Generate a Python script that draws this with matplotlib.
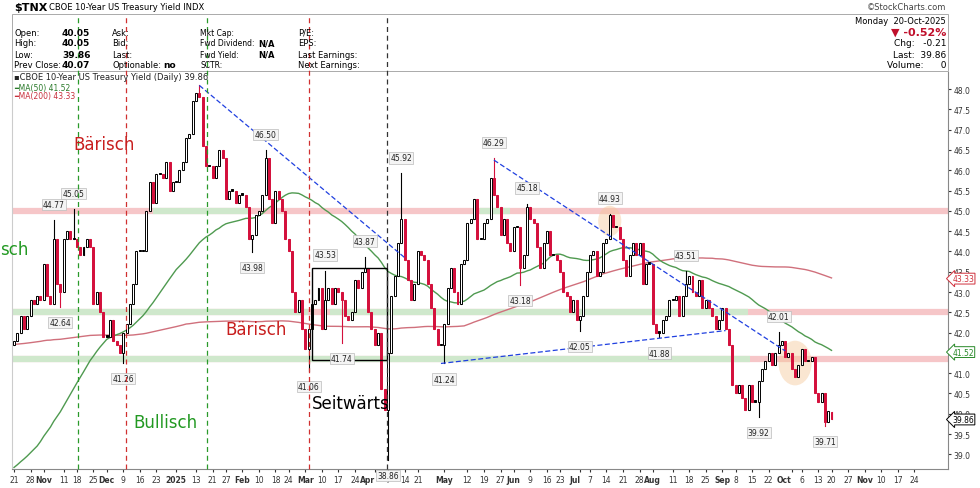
import numpy as np
import pandas as pd
import matplotlib
matplotlib.use("Agg")
import matplotlib.pyplot as plt
from matplotlib.patches import Rectangle, Ellipse

# ---------------- data ----------------
holidays = ["2024-11-11", "2024-11-28", "2024-12-25", "2025-01-01", "2025-01-09", "2025-01-20",
            "2025-02-17", "2025-04-18", "2025-05-26", "2025-06-19", "2025-07-04", "2025-09-01",
            "2025-10-13"]
closes = [
    41.8, 42.0, 42.4, 42.1, 42.4,
    42.8, 42.7, 42.9, 42.8, 43.7,
    42.9, 42.7, 44.3, 43.2, 43.0,
    44.3, 44.5, 44.3, 44.3,
    44.1, 43.9, 44.1, 44.3, 44.1,
    42.7, 43.0, 42.5, 41.9,
    41.9, 42.3, 41.8, 41.7, 41.5,
    42.0, 42.2, 42.7, 43.2, 44.0,
    44.0, 44.0, 45.0, 45.7, 45.2,
    45.9, 45.9, 45.8, 46.2,
    45.5, 45.7, 45.7, 46.0,
    46.2, 46.8, 46.9, 47.7,
    47.9, 47.8, 46.6, 46.1, 46.1,
    45.8, 46.1, 46.5, 46.3,
    45.3, 45.5, 45.5, 45.2, 45.4,
    45.4, 45.1, 44.3, 44.4, 44.9,
    45.0, 45.4, 46.3, 45.3, 44.7,
    45.5, 45.3, 45.0, 44.3,
    44.0, 43.0, 42.5, 42.8, 42.1,
    41.6, 42.1, 42.7, 42.8, 43.1,
    42.1, 42.8, 43.1, 42.7, 43.1,
    43.0, 42.8, 42.4, 42.3, 42.5,
    43.3, 43.1, 43.5, 43.6, 42.5,
    42.1, 41.7, 42.0, 40.6, 40.1,
    41.5, 42.9, 43.4, 44.2, 44.8,
    43.8, 43.3, 42.8, 43.2,
    44.0, 43.9, 43.8, 43.2, 42.6,
    42.1, 41.7, 41.7, 42.2, 43.1,
    43.6, 43.0, 42.7, 43.7, 43.8,
    44.7, 44.8, 45.3, 44.3, 44.3,
    44.7, 44.8, 45.8, 45.4, 45.1,
    44.4, 44.8, 44.2, 44.0,
    44.6, 44.6, 43.6, 43.9, 45.1,
    44.8, 44.7, 44.1, 43.6, 44.2,
    44.5, 43.9, 43.9, 43.8,
    43.5, 43.0, 42.9, 42.5, 42.8,
    42.3, 42.4, 42.9, 43.5,
    43.9, 44.0, 43.4, 43.5, 44.2,
    44.3, 44.9, 44.6, 44.6, 44.3,
    43.8, 43.4, 43.9, 44.2, 43.9,
    44.2, 43.2, 43.7, 43.7, 42.2,
    42.0, 42.0, 42.3, 42.4, 42.8,
    42.8, 42.9, 42.4, 42.9, 43.2,
    43.4, 43.0, 42.9, 43.3, 42.6,
    42.8, 42.6, 42.4, 42.1, 42.3,
    42.6, 42.1, 41.7, 40.7,
    40.5, 40.7, 40.4, 40.1, 40.7,
    40.3, 40.3, 40.8, 41.1, 41.3,
    41.5, 41.2, 41.5, 41.7, 41.8,
    41.4, 41.5, 41.1, 40.9, 41.2,
    41.6, 41.3, 41.3, 41.4, 40.5,
    40.3, 40.5, 39.8, 40.07,
    39.86,
]
prior_monthly = [40.6, 42.1, 42.1, 45.4, 44.8, 43.1, 42.5, 38.7, 37.2, 40.0]  # 2024 Jan-Oct avg
extremes_dates = ["2024-11-06", "2024-11-15", "2024-11-08", "2024-12-09", "2025-01-14", "2025-02-12",
                  "2025-02-06", "2025-03-04", "2025-03-11", "2025-03-27", "2025-03-18", "2025-04-07",
                  "2025-04-11", "2025-05-01", "2025-05-22", "2025-06-06", "2025-06-04", "2025-07-15",
                  "2025-07-01", "2025-08-15", "2025-08-05", "2025-09-17", "2025-09-25", "2025-10-16"]
extremes_vals = [44.77, 45.05, 42.64, 41.26, 48.09, 46.50, 43.98, 41.06, 43.53, 43.87, 41.74, 38.86,
                 45.92, 41.24, 46.29, 45.18, 43.18, 44.93, 42.05, 43.51, 41.88, 39.92, 42.01, 39.71]
extremes_kind = ["h", "h", "l", "l", "h", "h", "l", "l", "h", "h", "l", "l",
                 "h", "l", "h", "h", "l", "h", "l", "h", "l", "l", "h", "l"]
tick_dates = ["2024-10-21", "2024-10-28", "2024-11-01", "2024-11-12", "2024-11-18", "2024-11-25",
              "2024-12-02", "2024-12-09", "2024-12-16", "2024-12-23", "2025-01-02", "2025-01-13",
              "2025-01-21", "2025-01-27", "2025-02-03", "2025-02-10", "2025-02-18", "2025-02-24",
              "2025-03-03", "2025-03-10", "2025-03-17", "2025-03-24", "2025-04-01", "2025-04-07",
              "2025-04-14", "2025-04-21", "2025-05-01", "2025-05-12", "2025-05-19", "2025-05-27",
              "2025-06-02", "2025-06-09", "2025-06-16", "2025-06-23", "2025-07-01", "2025-07-07",
              "2025-07-14", "2025-07-21", "2025-07-28", "2025-08-01", "2025-08-11", "2025-08-18",
              "2025-08-25", "2025-09-02", "2025-09-08", "2025-09-15", "2025-09-22", "2025-10-01",
              "2025-10-06", "2025-10-14", "2025-10-20", "2025-10-27", "2025-11-03", "2025-11-10",
              "2025-11-17", "2025-11-24"]
tick_labels = ["21", "28", "Nov", "11", "18", "25", "Dec", "9", "16", "23", "2025", "13", "21", "27",
               "Feb", "10", "18", "24", "Mar", "10", "17", "24", "Apr", "7", "14", "21", "May", "12",
               "19", "27", "Jun", "9", "16", "23", "Jul", "7", "14", "21", "28", "Aug", "11", "18",
               "25", "Sep", "8", "15", "22", "Oct", "6", "13", "20", "27", "Nov", "10", "17", "24"]

# ---------------- calendar ----------------
cal = [d for d in pd.bdate_range("2024-10-21", "2025-11-28") if d.strftime("%Y-%m-%d") not in holidays]
cal = pd.DatetimeIndex(cal)
n = len(closes)
def pos(ds):
    return int(np.searchsorted(cal, pd.Timestamp(ds)))

closes = np.array(closes, dtype=float)
prev = np.concatenate([[41.7], closes[:-1]])
opens = prev.copy()
opens[-1] = 40.05
idx = np.arange(n)

hist = np.concatenate([np.repeat(prior_monthly, 21), closes])
s = pd.Series(hist)
ma50 = s.rolling(50).mean().values[-n:]
ma200 = s.rolling(200, min_periods=150).mean().values[-n:]

# ---------------- figure ----------------
W, H = 980, 489
fig = plt.figure(figsize=(9.8, 4.89), dpi=100)
plt.rcParams['font.family'] = ['DejaVu Sans']
ax_top, ax_bot, ax_l, ax_r = 73, 470, 12, 948
ax = fig.add_axes([ax_l / W, 1 - ax_bot / H, (ax_r - ax_l) / W, (ax_bot - ax_top) / H])

i_apr7 = pos("2025-04-07")
ppx = (388 - 14) / i_apr7
def px2i(p):
    return (p - 14) / ppx
ax.set_xlim(px2i(ax_l), px2i(ax_r))
ax.set_ylim(38.64, 48.42)

# bands
def band(y, x0, x1, col):
    ax.plot([px2i(x0), px2i(x1)], [y, y], color=col, lw=4.5, solid_capstyle='butt', zorder=1)
pink, green = '#f6c6c8', '#cfe8cc'
band(45.0, 12, 948, pink); band(45.0, 153, 250, green); band(45.0, 480, 510, green)
band(42.5, 12, 948, pink); band(42.5, 12, 308, green); band(42.5, 330, 748, green)
band(41.35, 12, 948, pink); band(41.35, 12, 750, green)

# vertical dashed
for p, c in [(78, '#2a9a2a'), (126, '#d03030'), (207, '#2a9a2a'), (309, '#d03030'), (387, '#333333')]:
    fig.add_artist(plt.Line2D([p / W, p / W], [1 - ax_bot / H, 1 - 15 / H], color=c, lw=0.9,
                              ls=(0, (4, 3)), zorder=2))

# MAs
ax.plot(idx, ma200, color='#d0707c', lw=1.0, zorder=3)
ax.plot(idx, ma50, color='#4f9a50', lw=1.0, zorder=3)

# candles
red = '#d4103c'
ext = {pos(d): (v, k) for d, v, k in zip(extremes_dates, extremes_vals, extremes_kind)}
for i in range(n):
    o, c = opens[i], closes[i]
    up = c >= prev[i]
    col = 'black' if up else red
    lo, hi = min(o, c), max(o, c)
    wl, wh = lo, hi
    if i in ext:
        v, k = ext[i]
        if k == 'h': wh = max(wh, v)
        else: wl = min(wl, v)
    ax.plot([i, i], [wl, wh], color=col, lw=0.8, zorder=4)
    hollow = c > o
    ax.add_patch(Rectangle((i - 0.3, lo), 0.6, max(hi - lo, 0.03),
                           facecolor='white' if hollow else col, edgecolor=col, lw=0.7, zorder=5))
for i, (v, k) in ext.items():
    if v > 48:
        continue
    ax.annotate(f"{v:.2f}", (i, v), xytext=(0, 8 if k == 'h' else -8), textcoords='offset points',
                ha='center', va='bottom' if k == 'h' else 'top', fontsize=5.5, color='#222',
                bbox=dict(boxstyle='square,pad=0.15', fc='#f4f4f4', ec='#bbbbbb', lw=0.5), zorder=7)

# trendlines
blue = '#2040e0'
ax.plot([pos("2025-01-14"), pos("2025-04-14")], [48.09, 43.85], color=blue, lw=0.9, ls=(0, (4, 2)), zorder=6)
ax.plot([pos("2025-05-22"), pos("2025-09-29")], [46.25, 41.55], color=blue, lw=0.9, ls=(0, (4, 2)), zorder=6)
ax.plot([pos("2025-04-30"), pos("2025-09-03")], [41.24, 42.05], color=blue, lw=0.9, ls=(0, (4, 2)), zorder=6)

# box
ax.add_patch(Rectangle((px2i(312), 41.33), px2i(387) - px2i(312), 43.58 - 41.33,
                       fill=False, ec='black', lw=1.0, zorder=6))
# circles
ax.add_patch(Ellipse((pos("2025-07-15"), 44.75), 7, 0.75, fc='#f5c89a', ec='none', alpha=0.45, zorder=3))
ax.add_patch(Ellipse((pos("2025-10-02"), 41.25), 10, 1.1, fc='#f5c89a', ec='none', alpha=0.45, zorder=3))

# annotations text
def ftext(x, y, s, **kw):
    fig.text(x / W, 1 - y / H, s, **kw)
ftext(73, 145, "Bärisch", color='#c81e1e', fontsize=12, va='center')
ftext(0, 250, "sch", color='#229922', fontsize=12, va='center')
ftext(225, 330, "Bärisch", color='#c81e1e', fontsize=12, va='center')
ftext(133, 423, "Bullisch", color='#229922', fontsize=12, va='center')
ftext(312, 404, "Seitwärts", color='black', fontsize=12, va='center')

# axes styling
ax.yaxis.tick_right()
yt = np.arange(39.0, 48.01, 0.5)
ax.set_yticks(yt)
ax.set_yticklabels([f"{v:.1f}" for v in yt], fontsize=5.5)
ax.set_xticks([pos(d) for d in tick_dates])
ax.set_xticklabels(tick_labels, fontsize=5.5)
for lab in ax.get_xticklabels():
    t = lab.get_text()
    if not t.isdigit() or t == "2025":
        lab.set_fontweight('bold')
    if t in ("Apr", "Oct", "Jul"):
        lab.set_horizontalalignment('right')
ax.tick_params(axis='both', length=2, pad=2, colors='#333')
ax.spines['top'].set_visible(False)
ax.spines['left'].set_color('#cccccc')
ax.spines['right'].set_color('#888888')
ax.spines['bottom'].set_color('#888888')

# right value boxes
for v, c in [(43.33, '#d0303c'), (41.52, '#2a8a2a'), (39.86, 'black')]:
    ax.annotate(f"{v:.2f}", (1.0, v), xycoords=('axes fraction', 'data'), xytext=(3, 0),
                textcoords='offset points', va='center', ha='left', fontsize=5.5, color=c,
                bbox=dict(boxstyle='larrow,pad=0.12', fc='white', ec=c, lw=0.7), zorder=8)

# header
ftext(14, 8, "$TNX", fontsize=8, fontweight='bold', va='center')
ftext(49, 8, "CBOE 10-Year US Treasury Yield INDX", fontsize=6, va='center')
ftext(946, 8, "©StockCharts.com", fontsize=6, va='center', ha='right', color='#444')
fig.add_artist(Rectangle((12 / W, 1 - 72 / H), (948 - 12) / W, (72 - 15) / H, transform=fig.transFigure,
                         fill=False, ec='#aaaaaa', lw=0.7))
rows = [("Open:", "40.05", "Ask:", "", "Mkt Cap:", "", "P/E:"),
        ("High:", "40.05", "Bid:", "", "Fwd Dividend:", "N/A", "EPS:"),
        ("Low:", "39.86", "Last:", "", "Fwd Yield:", "N/A", "Last Earnings:"),
        ("Prev Close:", "40.07", "Optionable:", "no", "SCTR:", "", "Next Earnings:")]
for k, r in enumerate(rows):
    y = 33 + 11 * k
    ftext(14, y, r[0], fontsize=6, va='center')
    ftext(62, y, r[1], fontsize=6.5, va='center', fontweight='bold')
    ftext(112, y, r[2], fontsize=6, va='center')
    ftext(163, y, r[3], fontsize=6.5, va='center', fontweight='bold')
    ftext(200, y, r[4], fontsize=5.5, va='center')
    ftext(258, y, r[5], fontsize=6, va='center', fontweight='bold')
    ftext(298, y, r[6], fontsize=6, va='center')
ftext(946, 21, "Monday  20-Oct-2025", fontsize=6, va='center', ha='right')
ftext(946, 33, "▼ -0.52%", fontsize=8, va='center', ha='right', color='#c0102c', fontweight='bold')
ftext(946, 44, "Chg:   -0.21", fontsize=6.5, va='center', ha='right')
ftext(946, 55, "Last:  39.86", fontsize=6.5, va='center', ha='right')
ftext(946, 66, "Volume:      0", fontsize=6.5, va='center', ha='right')

# legend
ftext(14, 78, "▪CBOE 10-Year US Treasury Yield (Daily) 39.86", fontsize=6, va='center', color='#222')
ftext(14, 88, "━MA(50) 41.52", fontsize=5.5, va='center', color='#2a7a2a')
ftext(14, 97, "━MA(200) 43.33", fontsize=5.5, va='center', color='#c8303c')

fig.savefig("out.png", dpi=100, facecolor='white')
